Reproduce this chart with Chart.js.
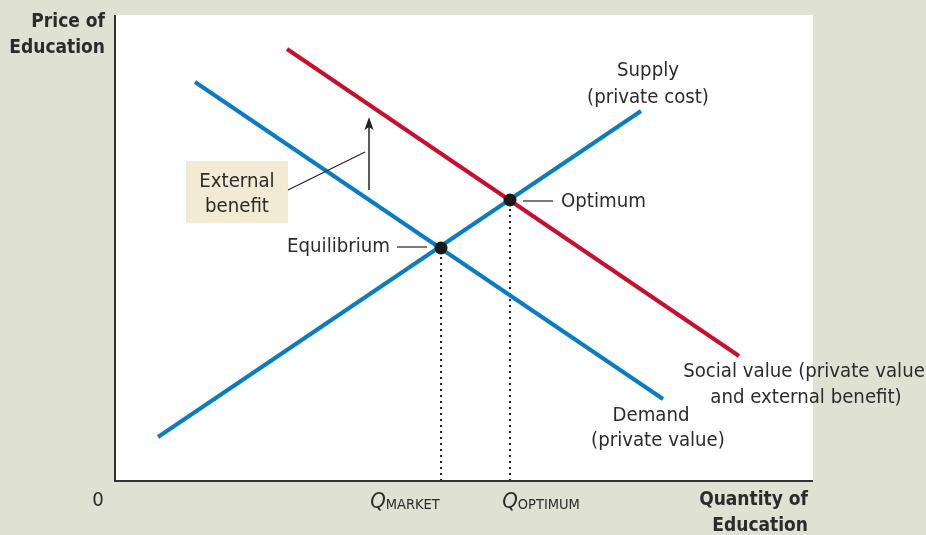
<!DOCTYPE html>
<html>
<head>
<meta charset="utf-8">
<script src="https://cdn.jsdelivr.net/npm/chart.js@4/dist/chart.umd.min.js"></script>
<style>
  html, body { margin: 0; padding: 0; background: #dfe1d2; }
  #wrap { width: 926px; height: 535px; }
</style>
</head>
<body>
<div id="wrap"><canvas id="c" width="926" height="535"></canvas></div>
<script>
// 曲線の端点 (数量, 価格)
const supply = [{ x: 43, y: 44 }, { x: 526, y: 370 }];
const demand = [{ x: 80, y: 399 }, { x: 548, y: 82 }];
const socialValue = [{ x: 172, y: 432 }, { x: 624, y: 125 }];
const equilibrium = { x: 326, y: 233 };
const optimum = { x: 395, y: 281 };

// 軸の範囲
const qMax = 698;
const pMax = 466;

// 注記
const externalArrow = [{ x: 254, y: 291 }, { x: 254, y: 364 }];
const externalLeader = [{ x: 173, y: 291 }, { x: 250, y: 329 }];
const externalBox = [{ x: 71, y: 258 }, { x: 173, y: 320 }];
const eqLeader = [{ x: 282, y: 234 }, { x: 312, y: 234 }];
const optLeader = [{ x: 408, y: 280 }, { x: 438, y: 280 }];

const labels = [
  { text: 'Supply', x: 533, y: 410, align: 'center' },
  { text: '(private cost)', x: 533, y: 383, align: 'center' },
  { text: 'Optimum', x: 446, y: 279, align: 'left' },
  { text: 'Equilibrium', x: 275, y: 234, align: 'right' },
  { text: 'External', x: 122, y: 299, align: 'center' },
  { text: 'benefit', x: 122, y: 274, align: 'center' },
  { text: 'Social value (private value', x: 689, y: 109, align: 'center' },
  { text: 'and external benefit)', x: 691, y: 83, align: 'center' },
  { text: 'Demand', x: 536, y: 65, align: 'center' },
  { text: '(private value)', x: 543, y: 40, align: 'center' }
];

const BLUE = '#0a7cc1';
const RED = '#c8102e';
const FONT = '"DejaVu Sans Condensed", "DejaVu Sans", sans-serif';

const annotations = {
  id: 'annotations',
  beforeDatasetsDraw(chart) {
    const { ctx, chartArea, scales: { x, y } } = chart;
    ctx.save();
    ctx.fillStyle = '#ffffff';
    ctx.fillRect(chartArea.left, chartArea.top, chartArea.width, chartArea.height);
    // 外部便益の箱
    const bx0 = x.getPixelForValue(externalBox[0].x), bx1 = x.getPixelForValue(externalBox[1].x);
    const by0 = y.getPixelForValue(externalBox[0].y), by1 = y.getPixelForValue(externalBox[1].y);
    ctx.fillStyle = '#f2ead3';
    ctx.fillRect(bx0, by1, bx1 - bx0, by0 - by1);
    ctx.restore();
  },
  afterDatasetsDraw(chart) {
    const { ctx, chartArea, scales: { x, y } } = chart;
    const px = v => x.getPixelForValue(v);
    const py = v => y.getPixelForValue(v);
    ctx.save();

    // 軸
    ctx.strokeStyle = '#333333';
    ctx.lineWidth = 2;
    ctx.beginPath();
    ctx.moveTo(chartArea.left, chartArea.top);
    ctx.lineTo(chartArea.left, chartArea.bottom);
    ctx.lineTo(chartArea.right, chartArea.bottom);
    ctx.stroke();

    // 引き出し線
    ctx.strokeStyle = '#222222';
    ctx.lineWidth = 1.2;
    [externalLeader, eqLeader, optLeader].forEach(seg => {
      ctx.beginPath();
      ctx.moveTo(px(seg[0].x), py(seg[0].y));
      ctx.lineTo(px(seg[1].x), py(seg[1].y));
      ctx.stroke();
    });

    // 矢印
    const ax = px(externalArrow[0].x);
    const ay0 = py(externalArrow[0].y), ay1 = py(externalArrow[1].y);
    ctx.lineWidth = 1.5;
    ctx.beginPath();
    ctx.moveTo(ax, ay0);
    ctx.lineTo(ax, ay1 + 8);
    ctx.stroke();
    ctx.fillStyle = '#222222';
    ctx.beginPath();
    ctx.moveTo(ax, ay1);
    ctx.lineTo(ax - 4.5, ay1 + 13);
    ctx.lineTo(ax, ay1 + 10);
    ctx.lineTo(ax + 4.5, ay1 + 13);
    ctx.closePath();
    ctx.fill();

    // ラベル
    ctx.fillStyle = '#2b2b2b';
    ctx.font = '20.2px ' + FONT;
    ctx.textBaseline = 'middle';
    labels.forEach(l => {
      ctx.textAlign = l.align;
      ctx.fillText(l.text, px(l.x), py(l.y));
    });

    // 軸ラベル
    ctx.font = 'bold 19px ' + FONT;
    ctx.textAlign = 'right';
    ctx.fillText('Price of', chartArea.left - 10, 22);
    ctx.fillText('Education', chartArea.left - 10, 48);
    ctx.fillText('Quantity of', chartArea.right - 5, 500);
    ctx.fillText('Education', chartArea.right - 5, 526);

    ctx.font = '20.2px ' + FONT;
    ctx.textAlign = 'center';
    ctx.fillText('0', chartArea.left - 17, 501);

    // Q ラベル
    const qLabel = (xv, sub) => {
      const cx = px(xv);
      ctx.font = 'italic 22px ' + FONT;
      const qw = ctx.measureText('Q').width;
      ctx.font = '14.5px ' + FONT;
      const sw = ctx.measureText(sub).width;
      const start = cx - (qw + sw) / 2;
      ctx.textAlign = 'left';
      ctx.textBaseline = 'alphabetic';
      ctx.font = 'italic 22px ' + FONT;
      ctx.fillText('Q', start, 508);
      ctx.font = '14.5px ' + FONT;
      ctx.fillText(sub, start + qw, 509);
    };
    qLabel(equilibrium.x - 36, 'MARKET');
    qLabel(optimum.x + 31, 'OPTIMUM');

    ctx.restore();
  }
};

const lineDs = (data, color) => ({
  data, borderColor: color, borderWidth: 4, pointRadius: 0, showLine: true, fill: false, order: 2
});

const dottedDs = p => ({
  data: [{ x: p.x, y: 0 }, { x: p.x, y: p.y }],
  borderColor: '#222222', borderWidth: 2, borderDash: [2, 4], pointRadius: 0, showLine: true, fill: false, order: 3
});

new Chart(document.getElementById('c'), {
  type: 'scatter',
  data: {
    datasets: [
      dottedDs(equilibrium),
      dottedDs(optimum),
      lineDs(socialValue, RED),
      lineDs(demand, BLUE),
      lineDs(supply, BLUE),
      {
        data: [equilibrium, optimum],
        pointRadius: 6.5, pointBackgroundColor: '#1a1a1a', pointBorderWidth: 0, showLine: false, order: 0
      }
    ]
  },
  options: {
    responsive: false,
    animation: false,
    layout: { padding: { left: 115, right: 113, top: 15, bottom: 54 } },
    plugins: { legend: { display: false }, tooltip: { enabled: false } },
    scales: {
      x: { type: 'linear', min: 0, max: qMax, display: false },
      y: { type: 'linear', min: 0, max: pMax, display: false }
    }
  },
  plugins: [annotations]
});
</script>
</body>
</html>
